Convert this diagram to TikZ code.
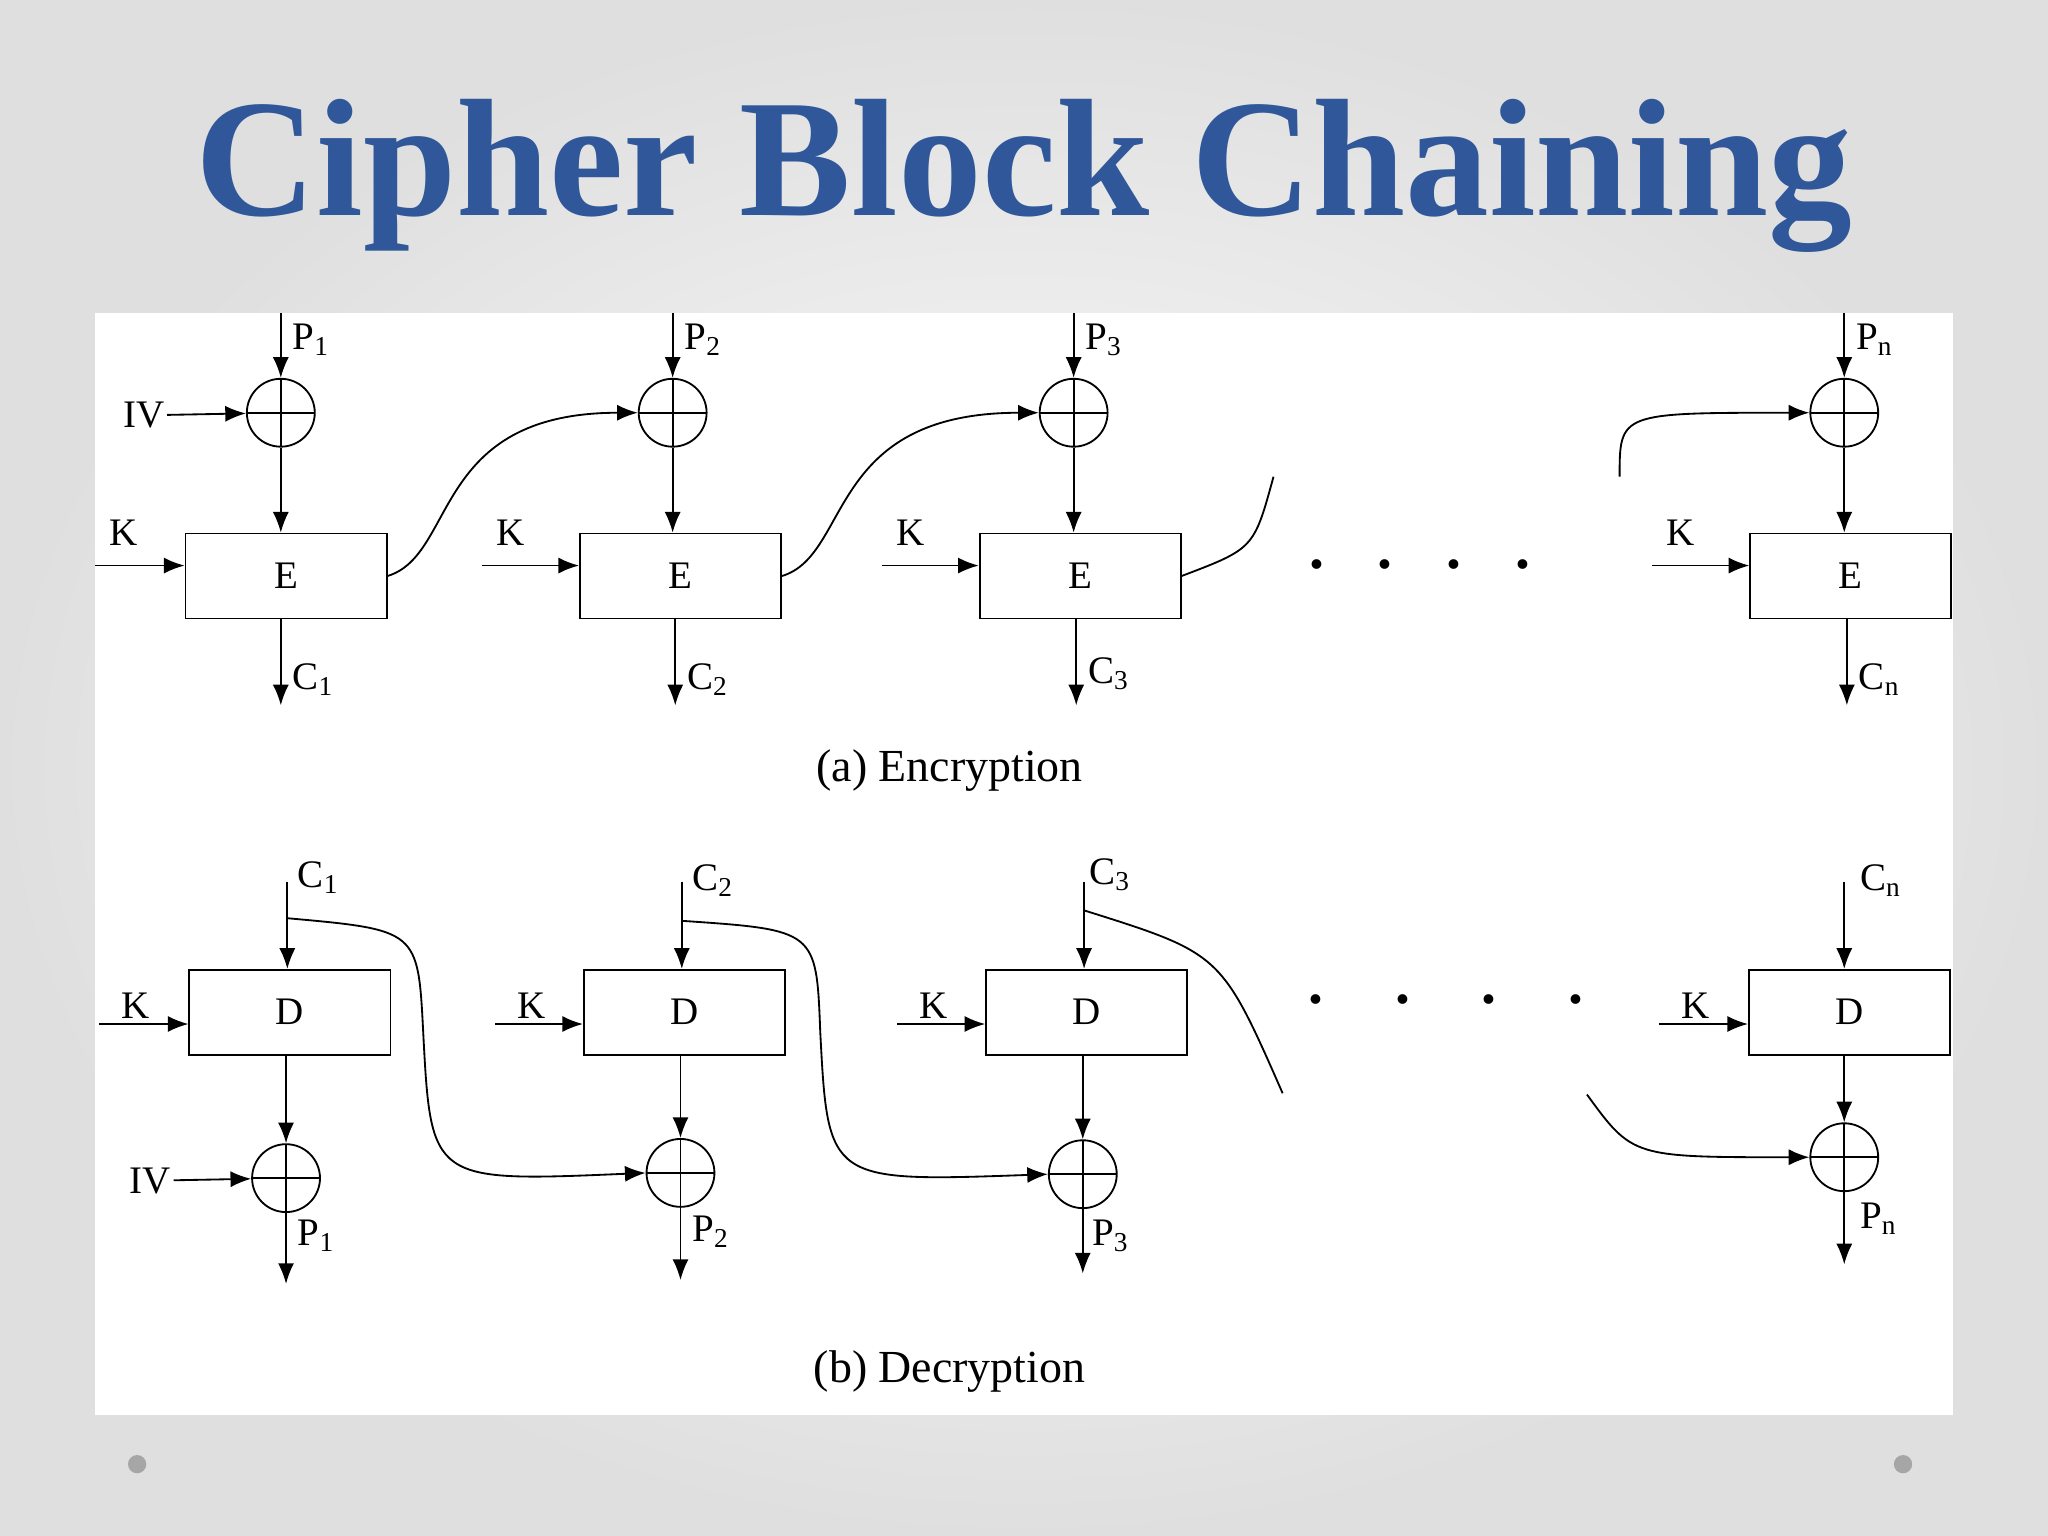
\documentclass[tikz,border=0pt]{standalone}
\usepackage{fontspec}
\setmainfont{Liberation Serif}
\usetikzlibrary{arrows.meta}
\definecolor{titleblue}{RGB}{47,87,153}
\tikzset{
  cipher box/.style={draw, line width=0.8pt, minimum width=3.08cm, minimum height=1.3cm, font=\fontsize{17}{17}\selectfont},
  xor/.style={draw, circle, line width=0.8pt, minimum size=1.04cm, inner sep=0pt,
    path picture={\draw[line width=0.8pt] (path picture bounding box.north) -- (path picture bounding box.south)
      (path picture bounding box.west) -- (path picture bounding box.east);}},
  lbl/.style={font=\fontsize{17}{17}\selectfont, inner sep=1pt},
  flow/.style={line width=0.8pt, -{Latex[length=9pt,width=7pt]}},
  link/.style={line width=0.8pt},
  dots/.style={font=\fontsize{26}{26}\selectfont\bfseries},
}
\begin{document}
\begin{tikzpicture}[x=0.02cm, y=-0.02cm]
  % background and panel
  \shade[inner color=white, outer color=gray!25] (0,0) rectangle (1568,1176);
  \useasboundingbox (0,0) rectangle (1568,1176);
  \fill[white] (73,240) rectangle (1495,1083);
  \fill[gray!70] (105,1121) circle (7) (1457,1121) circle (7);
  \node[font=\fontsize{73}{73}\selectfont\bfseries, text=titleblue] (title) at (784,135) {Cipher Block Chaining};

  % encryption
  \node[cipher box] (e1) at (219,441) {E};
  \node[cipher box] (e2) at (521,441) {E};
  \node[cipher box] (e3) at (827,441) {E};
  \node[cipher box] (en) at (1417,441) {E};
  \node[xor] (x1) at (215,316) {};
  \node[xor] (x2) at (515,316) {};
  \node[xor] (x3) at (822,316) {};
  \node[xor] (xn) at (1412,316) {};
  \coordinate (p1) at (215,240); \coordinate (p2) at (515,240);
  \coordinate (p3) at (822,240); \coordinate (pn) at (1412,240);
  \coordinate (c1) at (215,540); \coordinate (c2) at (517,540);
  \coordinate (c3) at (824,540); \coordinate (cn) at (1414,540);
  \node[lbl, anchor=west] at (222,260) {P\textsubscript{1}};
  \node[lbl, anchor=west] at (522,260) {P\textsubscript{2}};
  \node[lbl, anchor=west] at (829,260) {P\textsubscript{3}};
  \node[lbl, anchor=west] at (1419,260) {P\textsubscript{n}};
  \node[lbl, anchor=west] at (222,520) {C\textsubscript{1}};
  \node[lbl, anchor=west] at (524,520) {C\textsubscript{2}};
  \node[lbl, anchor=west] at (831,516) {C\textsubscript{3}};
  \node[lbl, anchor=west] at (1421,520) {C\textsubscript{n}};
  \node[lbl] (iv1) at (110,318) {IV};
  \draw[flow] (iv1) -- (x1);
  \foreach \i/\x in {1/73,2/369,3/675,n/1265} {
    \coordinate (k\i) at (\x,433);
    \node[lbl] at (\x+22,408) {K};
  }
  \draw[flow] (k1) -- (k1 -| e1.west);
  \draw[flow] (k2) -- (k2 -| e2.west);
  \draw[flow] (k3) -- (k3 -| e3.west);
  \draw[flow] (kn) -- (kn -| en.west);
  \foreach \i in {1,2,3,n} {
    \draw[flow] (p\i) -- (x\i);
    \draw[flow] (x\i) -- (x\i |- e\i.north);
    \draw[flow] (e\i.south -| c\i) -- (c\i);
  }
  \draw[flow] (e1.east) .. controls (350,425) and (330,316) .. (x2.west);
  \draw[flow] (e2.east) .. controls (652,425) and (632,316) .. (x3.west);
  \coordinate (e3end) at (975,365);
  \draw[link] (e3.east) .. controls (960,420) .. (e3end);
  \coordinate (enstart) at (1240,365);
  \draw[flow] (enstart) .. controls (1240,316) .. (xn.west);
  \node[dots] (dotsa) at (1087,432) {.\hspace{0.9em}.\hspace{0.9em}.\hspace{0.9em}.};
  \node[lbl, font=\fontsize{20}{20}\selectfont] (capa) at (727,590) {(a) Encryption};

  % decryption
  \node[cipher box] (d1) at (222,775) {D};
  \node[cipher box] (d2) at (524,775) {D};
  \node[cipher box] (d3) at (832,775) {D};
  \node[cipher box] (dn) at (1416,775) {D};
  \node[xor] (y1) at (219,902) {};
  \node[xor] (y2) at (521,898) {};
  \node[xor] (y3) at (829,899) {};
  \node[xor] (yn) at (1412,886) {};
  \coordinate (dc1) at (220,675); \coordinate (dc2) at (522,675);
  \coordinate (dc3) at (830,675); \coordinate (dcn) at (1412,675);
  \coordinate (dp1) at (219,983); \coordinate (dp2) at (521,980);
  \coordinate (dp3) at (829,975); \coordinate (dpn) at (1412,968);
  \node[lbl, anchor=west] at (226,672) {C\textsubscript{1}};
  \node[lbl, anchor=west] at (528,674) {C\textsubscript{2}};
  \node[lbl, anchor=west] at (832,670) {C\textsubscript{3}};
  \node[lbl, anchor=west] at (1422,674) {C\textsubscript{n}};
  \node[lbl, anchor=west] at (226,946) {P\textsubscript{1}};
  \node[lbl, anchor=west] at (528,943) {P\textsubscript{2}};
  \node[lbl, anchor=west] at (834,946) {P\textsubscript{3}};
  \node[lbl, anchor=west] at (1422,933) {P\textsubscript{n}};
  \node[lbl] (iv2) at (115,904) {IV};
  \draw[flow] (iv2) -- (y1);
  \foreach \i/\x in {1/76,2/379,3/687,n/1270} {
    \coordinate (dk\i) at (\x,784);
    \node[lbl] at (\x+28,770) {K};
  }
  \draw[flow] (dk1) -- (dk1 -| d1.west);
  \draw[flow] (dk2) -- (dk2 -| d2.west);
  \draw[flow] (dk3) -- (dk3 -| d3.west);
  \draw[flow] (dkn) -- (dkn -| dn.west);
  \foreach \i in {1,2,3,n} {
    \draw[flow] (dc\i) -- (dc\i |- d\i.north);
    \draw[flow] (d\i.south -| y\i) -- (y\i);
    \draw[flow] (y\i) -- (dp\i);
  }
  \coordinate (t1) at (220,703); \coordinate (t2) at (522,705);
  \coordinate (t3) at (830,697);
  \draw[flow] (t1) .. controls (320,712) .. (324,790) .. controls (330,905) .. (y2.west);
  \draw[flow] (t2) .. controls (625,712) .. (628,790) .. controls (634,905) .. (y3.west);
  \coordinate (t3end) at (982,837);
  \draw[link] (t3) .. controls (935,730) .. (t3end);
  \coordinate (tnstart) at (1215,838);
  \draw[flow] (tnstart) .. controls (1250,886) .. (yn.west);
  \node[dots] (dotsb) at (1107,765) {.\hspace{1.2em}.\hspace{1.2em}.\hspace{1.2em}.};
  \node[lbl, font=\fontsize{20}{20}\selectfont] (capb) at (727,1050) {(b) Decryption};
\end{tikzpicture}
\end{document}
